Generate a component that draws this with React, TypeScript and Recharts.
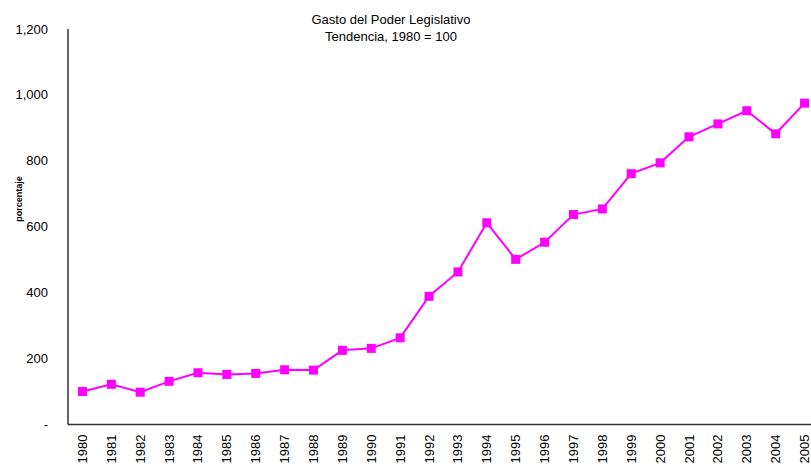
import React from 'react';
import { LineChart, Line, XAxis, YAxis } from 'recharts';

const years = ['1980','1981','1982','1983','1984','1985','1986','1987','1988','1989','1990','1991','1992','1993','1994','1995','1996','1997','1998','1999','2000','2001','2002','2003','2004','2005'];
const values = [100,122,98,131,157,152,155,166,165,225,231,263,389,463,612,501,553,637,654,761,794,873,912,952,882,975];
const yTicks = [0,200,400,600,800,1000,1200];

const data = years.map((y, i) => ({ year: y, value: values[i] }));

const FONT = '"Liberation Sans", Arial, sans-serif';

const XTick = (props: any) => {
  const { x, y, payload } = props;
  const ay = y + 2;
  return (
    <text x={x} y={ay} transform={`rotate(-90, ${x}, ${ay})`} textAnchor="end" dominantBaseline="central" fontFamily={FONT} fontSize={13} fill="#000">
      {payload.value}
    </text>
  );
};

const YTick = (props: any) => {
  const { x, y, payload } = props;
  const v = payload.value;
  const label = v === 0 ? '-' : v.toLocaleString('en-US');
  return (
    <text x={x} y={y} textAnchor="end" dominantBaseline="central" fontFamily={FONT} fontSize={13} fill="#000">
      {label}
    </text>
  );
};

const SquareDot = (props: any) => {
  const { cx, cy } = props;
  if (cx == null || cy == null) return null;
  return <rect x={cx - 4.5} y={cy - 4.5} width={9} height={9} fill="#FF00FF" />;
};

export default function App() {
  return (
    <div style={{ position: 'absolute', left: 0, top: 0, width: 811, height: 470, overflow: 'hidden', background: '#fff' }}>
      <div style={{ position: 'absolute', left: 0, top: 11, width: 782, textAlign: 'center', fontFamily: FONT, fontSize: 13, lineHeight: '17px', color: '#000' }}>
        Gasto del Poder Legislativo<br />Tendencia, 1980 = 100
      </div>
      <LineChart width={830} height={470} data={data} margin={{ top: 29, right: 11, bottom: 0, left: 8 }}>
        <XAxis dataKey="year" tick={<XTick />} tickLine={false} axisLine={{ stroke: '#333', strokeWidth: 1.5 }} height={45.5} interval={0} padding={{ left: 14.45, right: 14.45 }} />
        <YAxis
          domain={[0, 1200]}
          ticks={yTicks}
          tick={<YTick />}
          tickLine={false}
          tickMargin={14}
          axisLine={{ stroke: '#333', strokeWidth: 1.5 }}
          width={60}
          label={{
            content: () => (
              <text x={22} y={199} transform="rotate(-90, 22, 199)" textAnchor="middle" fontFamily={FONT} fontSize={9} fontWeight="bold" fill="#000">
                porcentaje
              </text>
            ),
          }}
        />
        <Line type="linear" dataKey="value" stroke="#FF00FF" strokeWidth={2} dot={<SquareDot />} activeDot={false} isAnimationActive={false} />
      </LineChart>
    </div>
  );
}
